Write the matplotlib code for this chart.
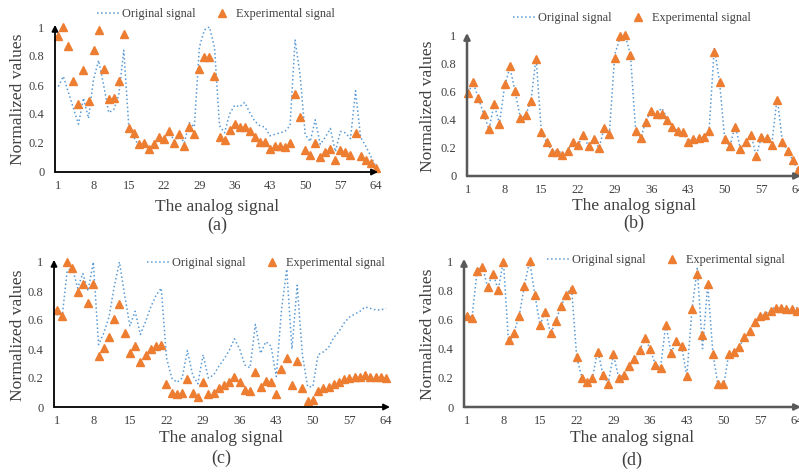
import matplotlib
matplotlib.use('Agg')
import matplotlib.pyplot as plt

plt.rcParams['font.family'] = ['Liberation Serif', 'DejaVu Serif']

# x positions of the samples
idx = list(range(1, 65))
xticks = [1, 8, 15, 22, 29, 36, 43, 50, 57, 64]
yticks = [0, 0.2, 0.4, 0.6, 0.8, 1]
ytick_labels = ['0', '0.2', '0.4', '0.6', '0.8', '1']

# original signal shared by (a) and (b)
orig_ab = [0.59, 0.66, 0.55, 0.44, 0.33, 0.51, 0.37, 0.64, 0.77, 0.60,
           0.41, 0.43, 0.53, 0.84, 0.31, 0.24, 0.18, 0.18, 0.16, 0.18,
           0.24, 0.22, 0.29, 0.21, 0.26, 0.20, 0.34, 0.31, 0.86, 0.98,
           1.00, 0.86, 0.32, 0.27, 0.40, 0.46, 0.45, 0.48, 0.41, 0.35,
           0.32, 0.31, 0.25, 0.26, 0.27, 0.28, 0.32, 0.91, 0.67, 0.26,
           0.21, 0.36, 0.19, 0.24, 0.30, 0.14, 0.28, 0.27, 0.23, 0.56,
           0.24, 0.18, 0.11, 0.04]
exp_a = [0.94, 1.00, 0.87, 0.63, 0.47, 0.70, 0.49, 0.84, 0.98, 0.71,
         0.50, 0.51, 0.63, 0.95, 0.30, 0.27, 0.19, 0.20, 0.16, 0.19,
         0.24, 0.23, 0.28, 0.20, 0.26, 0.18, 0.31, 0.26, 0.71, 0.79,
         0.79, 0.66, 0.24, 0.22, 0.29, 0.33, 0.31, 0.31, 0.28, 0.24,
         0.21, 0.21, 0.16, 0.18, 0.18, 0.17, 0.20, 0.54, 0.38, 0.15,
         0.12, 0.20, 0.10, 0.14, 0.16, 0.08, 0.15, 0.14, 0.12, 0.27,
         0.11, 0.08, 0.06, 0.03]
exp_b = [0.59, 0.67, 0.55, 0.44, 0.33, 0.51, 0.37, 0.65, 0.78, 0.60,
         0.41, 0.43, 0.53, 0.83, 0.31, 0.24, 0.17, 0.17, 0.15, 0.18,
         0.24, 0.22, 0.29, 0.21, 0.26, 0.20, 0.34, 0.30, 0.84, 0.99,
         1.00, 0.86, 0.32, 0.27, 0.38, 0.46, 0.44, 0.44, 0.40, 0.35,
         0.32, 0.31, 0.24, 0.26, 0.27, 0.28, 0.32, 0.88, 0.67, 0.26,
         0.21, 0.35, 0.19, 0.24, 0.29, 0.14, 0.28, 0.27, 0.22, 0.54,
         0.24, 0.18, 0.11, 0.04]

# original signal shared by (c) and (d)
orig_cd = [0.64, 0.61, 0.94, 0.96, 0.82, 0.92, 0.80, 1.00, 0.43, 0.51,
           0.62, 0.83, 1.00, 0.77, 0.56, 0.66, 0.50, 0.59, 0.69, 0.77,
           0.82, 0.34, 0.20, 0.17, 0.20, 0.39, 0.22, 0.16, 0.36, 0.20,
           0.22, 0.28, 0.33, 0.39, 0.47, 0.40, 0.29, 0.27, 0.57, 0.37,
           0.45, 0.42, 0.21, 0.67, 0.95, 0.40, 0.84, 0.36, 0.14, 0.14,
           0.36, 0.38, 0.41, 0.48, 0.52, 0.58, 0.62, 0.64, 0.66, 0.69,
           0.68, 0.67, 0.67, 0.68]
exp_c = [0.67, 0.63, 1.00, 0.96, 0.79, 0.85, 0.72, 0.85, 0.35, 0.41,
         0.48, 0.61, 0.71, 0.51, 0.37, 0.42, 0.31, 0.36, 0.40, 0.42,
         0.43, 0.16, 0.10, 0.09, 0.10, 0.19, 0.10, 0.07, 0.17, 0.09,
         0.10, 0.13, 0.15, 0.17, 0.21, 0.17, 0.12, 0.11, 0.24, 0.14,
         0.18, 0.17, 0.09, 0.26, 0.34, 0.15, 0.32, 0.13, 0.04, 0.05,
         0.11, 0.13, 0.14, 0.16, 0.17, 0.19, 0.20, 0.21, 0.21, 0.22,
         0.21, 0.21, 0.21, 0.20]
exp_d = [0.62, 0.61, 0.93, 0.96, 0.82, 0.91, 0.80, 0.99, 0.46, 0.51,
         0.62, 0.83, 1.00, 0.77, 0.56, 0.65, 0.51, 0.59, 0.69, 0.77,
         0.81, 0.34, 0.20, 0.17, 0.20, 0.38, 0.22, 0.16, 0.36, 0.20,
         0.22, 0.28, 0.33, 0.39, 0.47, 0.40, 0.29, 0.27, 0.56, 0.37,
         0.45, 0.42, 0.21, 0.67, 0.91, 0.49, 0.84, 0.36, 0.16, 0.16,
         0.36, 0.38, 0.41, 0.48, 0.52, 0.58, 0.62, 0.63, 0.66, 0.68,
         0.68, 0.67, 0.67, 0.66]

W, H = 799, 472
BLUE = '#5B9BD5'
ORANGE = '#ED7D31'
TXT = '#404040'


def box(x0, y_top, x1, y_bot):
    """pixel box -> figure fraction rect"""
    return [x0 / W, 1 - y_bot / H, (x1 - x0) / W, (y_bot - y_top) / H]


def fig_text(fig, x, y, s, **kw):
    fig.text(x / W, 1 - y / H, s, ha='center', va='center', color=TXT, **kw)


def draw_panel(fig, rect, xlim, orig, exp, tag, xlab, ylab, leg, axis_color, axis_lw):
    ax = fig.add_axes(rect)
    ax.plot(idx, orig, ls=':', color=BLUE, lw=1.1, label='Original signal', clip_on=False)
    ax.plot(idx, exp, ls='none', marker='^', ms=5.5, color=ORANGE,
            label='Experimental signal', clip_on=False)
    ax.set_xlim(*xlim)
    ax.set_ylim(0, 1)
    ax.set_xticks(xticks)
    ax.set_yticks(yticks)
    ax.set_yticklabels(ytick_labels)
    ax.tick_params(length=0, labelsize=9, colors=TXT)
    ax.tick_params(axis='y', pad=7.5)
    ax.tick_params(axis='x', pad=6)
    for s in ax.spines.values():
        s.set_visible(False)
    ap = dict(arrowstyle='-|>', color=axis_color, lw=axis_lw, mutation_scale=9,
              shrinkA=0, shrinkB=0)
    ax.annotate('', xy=(0, 1.015), xytext=(0, 0), xycoords='axes fraction', arrowprops=ap)
    ax.annotate('', xy=(1, 0), xytext=(0, 0), xycoords='axes fraction', arrowprops=ap)
    ax.legend(ncol=2, loc='center', bbox_to_anchor=(leg[0] / W, 1 - leg[1] / H),
              bbox_transform=fig.transFigure, frameon=False, fontsize=8.8,
              handlelength=1.8, handletextpad=0.25, columnspacing=1.2,
              labelcolor=TXT, borderpad=0, borderaxespad=0)
    fig_text(fig, xlab[0], xlab[1], 'The analog signal', fontsize=12.5)
    fig_text(fig, xlab[0], xlab[2], tag, fontsize=13)
    fig_text(fig, ylab[0], ylab[1], 'Normalized values', fontsize=12.6, rotation=90)
    return ax


fig = plt.figure(figsize=(W / 100, H / 100), dpi=100)

draw_panel(fig, box(55, 27, 378, 172), (0.345, 64.46), orig_ab, exp_a, '(a)',
           (217, 207, 225), (18, 99), (216, 14), 'black', 1.3)
draw_panel(fig, box(467, 35, 801, 176), (0.81, 64.55), orig_ab, exp_b, '(b)',
           (634, 206, 223), (428, 106), (632, 18), '#595959', 1.8)
draw_panel(fig, box(54, 262, 390, 407), (0.48, 64.76), orig_cd, exp_c, '(c)',
           (221, 438, 458), (18, 335), (266, 263), 'black', 1.3)
draw_panel(fig, box(464, 261, 801, 407), (0.48, 64.8), orig_cd, exp_d, '(d)',
           (632, 438, 460), (428, 334), (666, 260), '#595959', 1.8)

fig.savefig('out.png', dpi=100)
